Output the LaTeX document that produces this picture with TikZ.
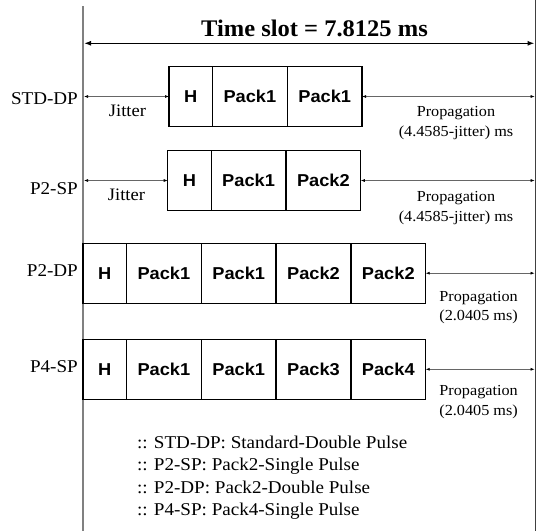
\documentclass[tikz,border=0pt]{standalone}
\usepackage{fontspec}
\setmainfont{Liberation Serif}[FakeStretch=1.06]
\newfontfamily\cellfont{Liberation Sans}[FakeStretch=1.06]
\newfontfamily\titlefont{Liberation Serif}[FakeStretch=1.03]
\usetikzlibrary{arrows.meta,positioning}
\definecolor{railgray}{HTML}{808080}
\definecolor{edgegray}{HTML}{404040}
\definecolor{leadgray}{HTML}{666666}

\tikzset{
  cell/.style={draw, line width=1.3pt, rectangle, inner sep=0pt, outer sep=0pt,
    minimum height=60pt, font=\fontsize{17.2}{18}\selectfont\cellfont\bfseries},
  hcell/.style={cell, minimum width=43.5pt},
  packcell/.style={cell, minimum width=74.8pt},
  lanelabel/.style={anchor=base east, inner sep=0pt, font=\fontsize{18}{20}\selectfont},
  note/.style={anchor=base, inner sep=0pt, font=\fontsize{17.5}{20}\selectfont},
  proplabel/.style={anchor=base, inner sep=0pt, font=\fontsize{15.3}{18}\selectfont},
  legendline/.style={anchor=base west, inner sep=0pt, font=\fontsize{18}{20}\selectfont},
  span/.style={leadgray, line width=0.6pt,
    {Latex[length=4pt,width=3pt,color=black]}-{Latex[length=4pt,width=3pt,color=black]}},
  slotspan/.style={black, line width=1.6pt,
    {Latex[length=7pt,width=5pt]}-{Latex[length=7pt,width=5pt]}},
}

\begin{document}
\begin{tikzpicture}[x=1pt,y=-1pt]

\useasboundingbox (0,0) rectangle (536,531);

% Slot boundaries
\draw[railgray,line width=1.8pt] (83,6) -- (83,531);
\draw[edgegray,line width=0.9pt] (535.3,0) -- (535.3,531);

% ===== TIME SLOT =====
\node[anchor=base,inner sep=0pt] (slot) at (314.5,36)
  {\fontsize{23.8}{26}\selectfont\titlefont\bfseries Time slot = 7.8125 ms};
\coordinate (slotL) at (84,43.3);
\coordinate (slotR) at (534.6,43.3);
\draw[slotspan] (slotL) -- (slotR);

% ===== STD-DP =====
\node[lanelabel] (lstd) at (78,104) {STD-DP};
\node[hcell,anchor=west] (hstd) at (169,96.5) {H};
\node[packcell,right=0pt of hstd] (pstdA) {Pack1};
\node[packcell,right=0pt of pstdA] (pstdB) {Pack1};
\coordinate (jstd) at (84,96.5);
\coordinate (estd) at (534.6,96.5);
\draw[span] (jstd) -- (hstd.west);
\draw[span] (pstdB.east) -- (estd);
\node[note] (jitstd) at (127.5,116.7) {Jitter};
\node[proplabel] (propstd) at (456,116.7) {Propagation};
\node[proplabel] (durstd) at (456,136.7) {(4.4585-jitter) ms};

% ===== P2-SP =====
\node[lanelabel] (lptwosp) at (78,194) {P2-SP};
\node[hcell,anchor=west] (hptwosp) at (167.7,180.5) {H};
\node[packcell,right=0pt of hptwosp] (pptwospA) {Pack1};
\node[packcell,right=0pt of pptwospA] (pptwospB) {Pack2};
\coordinate (jptwosp) at (84,180.5);
\coordinate (eptwosp) at (534.6,180.5);
\draw[span] (jptwosp) -- (hptwosp.west);
\draw[span] (pptwospB.east) -- (eptwosp);
\node[note] (jitptwosp) at (126.5,200.7) {Jitter};
\node[proplabel] (propptwosp) at (456,201.7) {Propagation};
\node[proplabel] (durptwosp) at (456,221.7) {(4.4585-jitter) ms};

% ===== P2-DP =====
\node[lanelabel] (lptwodp) at (78,276) {P2-DP};
\node[hcell,anchor=west] (hptwodp) at (83,273.2) {H};
\node[packcell,right=0pt of hptwodp] (pptwodpA) {Pack1};
\node[packcell,right=0pt of pptwodpA] (pptwodpB) {Pack1};
\node[packcell,right=0pt of pptwodpB] (pptwodpC) {Pack2};
\node[packcell,right=0pt of pptwodpC] (pptwodpD) {Pack2};
\coordinate (eptwodp) at (534.6,273.2);
\draw[span] (pptwodpD.east) -- (eptwodp);
\node[proplabel] (propptwodp) at (478.6,301.7) {Propagation};
\node[proplabel] (durptwodp) at (478.6,320.5) {(2.0405 ms)};

% ===== P4-SP =====
\node[lanelabel] (lpfoursp) at (78,372.7) {P4-SP};
\node[hcell,anchor=west] (hpfoursp) at (83,369.3) {H};
\node[packcell,right=0pt of hpfoursp] (ppfourspA) {Pack1};
\node[packcell,right=0pt of ppfourspA] (ppfourspB) {Pack1};
\node[packcell,right=0pt of ppfourspB] (ppfourspC) {Pack3};
\node[packcell,right=0pt of ppfourspC] (ppfourspD) {Pack4};
\coordinate (epfoursp) at (534.6,369.3);
\draw[span] (ppfourspD.east) -- (epfoursp);
\node[proplabel] (proppfoursp) at (478.6,395.5) {Propagation};
\node[proplabel] (durpfoursp) at (478.6,415) {(2.0405 ms)};

% ===== LEGEND =====
\node[legendline] (keystd) at (136.8,448.3) {:: STD-DP: Standard-Double Pulse};
\node[legendline] (keyptwosp) at (136.8,470.8) {:: P2-SP: Pack2-Single Pulse};
\node[legendline] (keyptwodp) at (136.8,493.3) {:: P2-DP: Pack2-Double Pulse};
\node[legendline] (keypfoursp) at (136.8,515.8) {:: P4-SP: Pack4-Single Pulse};

\end{tikzpicture}
\end{document}
